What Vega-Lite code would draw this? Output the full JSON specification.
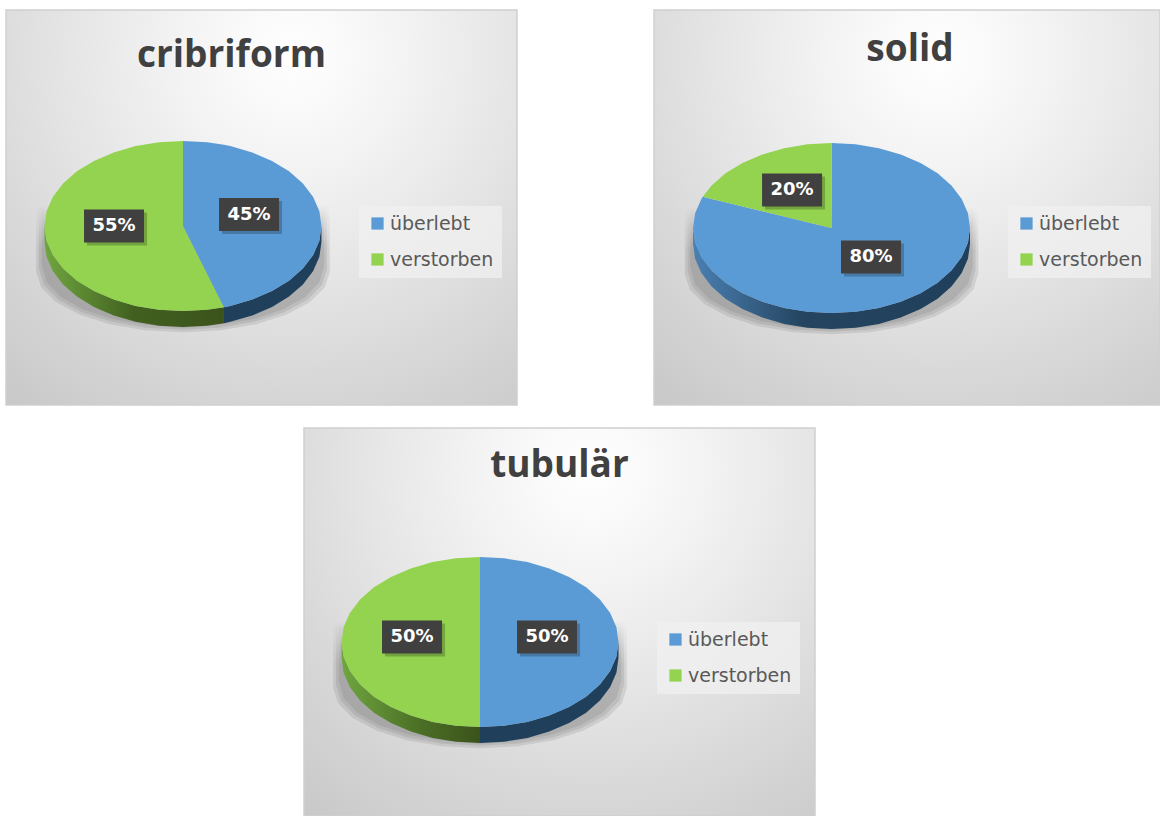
{
  "$schema": "https://vega.github.io/schema/vega-lite/v6.json",
  "padding": {"left": 5, "top": 9, "right": 0, "bottom": 0},
  "background": "white",
  "config": {
    "view": {
      "stroke": "#cfcfcf",
      "strokeWidth": 1.5,
      "fill": {
        "gradient": "radial", "x1": 0.56, "y1": 0.2, "x2": 0.56, "y2": 0.2, "r1": 0, "r2": 0.95,
        "stops": [
          {"offset": 0, "color": "#ffffff"},
          {"offset": 0.2, "color": "#f5f5f5"},
          {"offset": 0.45, "color": "#e6e6e6"},
          {"offset": 0.7, "color": "#d6d6d6"},
          {"offset": 1, "color": "#c4c4c4"}
        ]
      }
    },
    "title": {"font": "Open Sans", "fontWeight": "bold", "fontSize": 37, "color": "#404040", "baseline": "alphabetic", "offset": 0, "anchor": "middle", "frame": "group"},
    "legend": {
      "orient": "none", "title": null, "symbolType": "square", "symbolSize": 150, "symbolOpacity": 1, "symbolStrokeWidth": 0,
      "labelFont": "DejaVu Sans", "labelFontSize": 19, "labelColor": "#595959", "labelOffset": 3, "labelLimit": 200,
      "symbolOffset": 1, "rowPadding": 16, "padding": 8, "fillColor": "rgba(240,240,240,0.75)"
    }
  },
  "datasets": {
    "cribriform_slices": [
      {"slice": "verstorben", "x": -1, "y": 0, "y2": 0},
      {"slice": "verstorben", "x": -0.985, "y": 0.174, "y2": -0.174},
      {"slice": "verstorben", "x": -0.94, "y": 0.342, "y2": -0.342},
      {"slice": "verstorben", "x": -0.866, "y": 0.5, "y2": -0.5},
      {"slice": "verstorben", "x": -0.766, "y": 0.643, "y2": -0.643},
      {"slice": "verstorben", "x": -0.643, "y": 0.766, "y2": -0.766},
      {"slice": "verstorben", "x": -0.5, "y": 0.866, "y2": -0.866},
      {"slice": "verstorben", "x": -0.342, "y": 0.94, "y2": -0.94},
      {"slice": "verstorben", "x": -0.174, "y": 0.985, "y2": -0.985},
      {"slice": "verstorben", "x": 0, "y": 1, "y2": -1},
      {"slice": "verstorben", "x": 0, "y": 0, "y2": -1},
      {"slice": "verstorben", "x": 0.174, "y": -0.561, "y2": -0.985},
      {"slice": "verstorben", "x": 0.296, "y": -0.955, "y2": -0.955},
      {"slice": "überlebt", "x": 0, "y": 1, "y2": 0},
      {"slice": "überlebt", "x": 0.174, "y": 0.985, "y2": -0.561},
      {"slice": "überlebt", "x": 0.296, "y": 0.955, "y2": -0.955},
      {"slice": "überlebt", "x": 0.342, "y": 0.94, "y2": -0.94},
      {"slice": "überlebt", "x": 0.5, "y": 0.866, "y2": -0.866},
      {"slice": "überlebt", "x": 0.643, "y": 0.766, "y2": -0.766},
      {"slice": "überlebt", "x": 0.766, "y": 0.643, "y2": -0.643},
      {"slice": "überlebt", "x": 0.866, "y": 0.5, "y2": -0.5},
      {"slice": "überlebt", "x": 0.94, "y": 0.342, "y2": -0.342},
      {"slice": "überlebt", "x": 0.985, "y": 0.174, "y2": -0.174},
      {"slice": "überlebt", "x": 1, "y": 0, "y2": 0}
    ],
    "cribriform_rim": [
      {"slice": "verstorben", "x": -1, "y": 0, "y2": -0.188},
      {"slice": "verstorben", "x": -0.985, "y": -0.174, "y2": -0.362},
      {"slice": "verstorben", "x": -0.94, "y": -0.342, "y2": -0.53},
      {"slice": "verstorben", "x": -0.866, "y": -0.5, "y2": -0.688},
      {"slice": "verstorben", "x": -0.766, "y": -0.643, "y2": -0.831},
      {"slice": "verstorben", "x": -0.643, "y": -0.766, "y2": -0.954},
      {"slice": "verstorben", "x": -0.5, "y": -0.866, "y2": -1.054},
      {"slice": "verstorben", "x": -0.342, "y": -0.94, "y2": -1.128},
      {"slice": "verstorben", "x": -0.174, "y": -0.985, "y2": -1.173},
      {"slice": "verstorben", "x": 0, "y": -1, "y2": -1.188},
      {"slice": "verstorben", "x": 0.174, "y": -0.985, "y2": -1.173},
      {"slice": "verstorben", "x": 0.296, "y": -0.955, "y2": -1.143},
      {"slice": "überlebt", "x": 0.296, "y": -0.955, "y2": -1.143},
      {"slice": "überlebt", "x": 0.342, "y": -0.94, "y2": -1.128},
      {"slice": "überlebt", "x": 0.5, "y": -0.866, "y2": -1.054},
      {"slice": "überlebt", "x": 0.643, "y": -0.766, "y2": -0.954},
      {"slice": "überlebt", "x": 0.766, "y": -0.643, "y2": -0.831},
      {"slice": "überlebt", "x": 0.866, "y": -0.5, "y2": -0.688},
      {"slice": "überlebt", "x": 0.94, "y": -0.342, "y2": -0.53},
      {"slice": "überlebt", "x": 0.985, "y": -0.174, "y2": -0.362},
      {"slice": "überlebt", "x": 1, "y": 0, "y2": -0.188}
    ],
    "cribriform_labels": [
      {"slice": "überlebt", "value": 0.45, "x": 0.477, "y": 0.135},
      {"slice": "verstorben", "value": 0.55, "x": -0.498, "y": 0}
    ],
    "solid_slices": [
      {"slice": "überlebt", "x": -1, "y": 0, "y2": 0},
      {"slice": "überlebt", "x": -0.985, "y": 0.174, "y2": -0.174},
      {"slice": "überlebt", "x": -0.94, "y": 0.342, "y2": -0.342},
      {"slice": "überlebt", "x": -0.93, "y": 0.367, "y2": -0.367},
      {"slice": "überlebt", "x": -0.866, "y": 0.342, "y2": -0.5},
      {"slice": "überlebt", "x": -0.766, "y": 0.303, "y2": -0.643},
      {"slice": "überlebt", "x": -0.643, "y": 0.254, "y2": -0.766},
      {"slice": "überlebt", "x": -0.5, "y": 0.1975, "y2": -0.866},
      {"slice": "überlebt", "x": -0.342, "y": 0.135, "y2": -0.94},
      {"slice": "überlebt", "x": -0.174, "y": 0.0687, "y2": -0.985},
      {"slice": "überlebt", "x": 0, "y": 0, "y2": -1},
      {"slice": "überlebt", "x": 0, "y": 1, "y2": -1},
      {"slice": "überlebt", "x": 0.174, "y": 0.985, "y2": -0.985},
      {"slice": "überlebt", "x": 0.342, "y": 0.94, "y2": -0.94},
      {"slice": "überlebt", "x": 0.5, "y": 0.866, "y2": -0.866},
      {"slice": "überlebt", "x": 0.643, "y": 0.766, "y2": -0.766},
      {"slice": "überlebt", "x": 0.766, "y": 0.643, "y2": -0.643},
      {"slice": "überlebt", "x": 0.866, "y": 0.5, "y2": -0.5},
      {"slice": "überlebt", "x": 0.94, "y": 0.342, "y2": -0.342},
      {"slice": "überlebt", "x": 0.985, "y": 0.174, "y2": -0.174},
      {"slice": "überlebt", "x": 1, "y": 0, "y2": 0},
      {"slice": "verstorben", "x": -0.93, "y": 0.367, "y2": 0.367},
      {"slice": "verstorben", "x": -0.866, "y": 0.5, "y2": 0.342},
      {"slice": "verstorben", "x": -0.766, "y": 0.643, "y2": 0.303},
      {"slice": "verstorben", "x": -0.643, "y": 0.766, "y2": 0.254},
      {"slice": "verstorben", "x": -0.5, "y": 0.866, "y2": 0.1975},
      {"slice": "verstorben", "x": -0.342, "y": 0.94, "y2": 0.135},
      {"slice": "verstorben", "x": -0.174, "y": 0.985, "y2": 0.0687},
      {"slice": "verstorben", "x": 0, "y": 1, "y2": 0}
    ],
    "solid_rim": [
      {"slice": "überlebt", "x": -1, "y": 0, "y2": -0.188},
      {"slice": "überlebt", "x": -0.985, "y": -0.174, "y2": -0.362},
      {"slice": "überlebt", "x": -0.94, "y": -0.342, "y2": -0.53},
      {"slice": "überlebt", "x": -0.866, "y": -0.5, "y2": -0.688},
      {"slice": "überlebt", "x": -0.766, "y": -0.643, "y2": -0.831},
      {"slice": "überlebt", "x": -0.643, "y": -0.766, "y2": -0.954},
      {"slice": "überlebt", "x": -0.5, "y": -0.866, "y2": -1.054},
      {"slice": "überlebt", "x": -0.342, "y": -0.94, "y2": -1.128},
      {"slice": "überlebt", "x": -0.174, "y": -0.985, "y2": -1.173},
      {"slice": "überlebt", "x": 0, "y": -1, "y2": -1.188},
      {"slice": "überlebt", "x": 0.174, "y": -0.985, "y2": -1.173},
      {"slice": "überlebt", "x": 0.342, "y": -0.94, "y2": -1.128},
      {"slice": "überlebt", "x": 0.5, "y": -0.866, "y2": -1.054},
      {"slice": "überlebt", "x": 0.643, "y": -0.766, "y2": -0.954},
      {"slice": "überlebt", "x": 0.766, "y": -0.643, "y2": -0.831},
      {"slice": "überlebt", "x": 0.866, "y": -0.5, "y2": -0.688},
      {"slice": "überlebt", "x": 0.94, "y": -0.342, "y2": -0.53},
      {"slice": "überlebt", "x": 0.985, "y": -0.174, "y2": -0.362},
      {"slice": "überlebt", "x": 1, "y": 0, "y2": -0.188}
    ],
    "solid_labels": [
      {"slice": "überlebt", "value": 0.8, "x": 0.285, "y": -0.341},
      {"slice": "verstorben", "value": 0.2, "x": -0.285, "y": 0.447}
    ],
    "tubular_slices": [
      {"slice": "verstorben", "x": -1, "y": 0, "y2": 0},
      {"slice": "verstorben", "x": -0.985, "y": 0.174, "y2": -0.174},
      {"slice": "verstorben", "x": -0.94, "y": 0.342, "y2": -0.342},
      {"slice": "verstorben", "x": -0.866, "y": 0.5, "y2": -0.5},
      {"slice": "verstorben", "x": -0.766, "y": 0.643, "y2": -0.643},
      {"slice": "verstorben", "x": -0.643, "y": 0.766, "y2": -0.766},
      {"slice": "verstorben", "x": -0.5, "y": 0.866, "y2": -0.866},
      {"slice": "verstorben", "x": -0.342, "y": 0.94, "y2": -0.94},
      {"slice": "verstorben", "x": -0.174, "y": 0.985, "y2": -0.985},
      {"slice": "verstorben", "x": 0, "y": 1, "y2": -1},
      {"slice": "überlebt", "x": 0, "y": 1, "y2": -1},
      {"slice": "überlebt", "x": 0.174, "y": 0.985, "y2": -0.985},
      {"slice": "überlebt", "x": 0.342, "y": 0.94, "y2": -0.94},
      {"slice": "überlebt", "x": 0.5, "y": 0.866, "y2": -0.866},
      {"slice": "überlebt", "x": 0.643, "y": 0.766, "y2": -0.766},
      {"slice": "überlebt", "x": 0.766, "y": 0.643, "y2": -0.643},
      {"slice": "überlebt", "x": 0.866, "y": 0.5, "y2": -0.5},
      {"slice": "überlebt", "x": 0.94, "y": 0.342, "y2": -0.342},
      {"slice": "überlebt", "x": 0.985, "y": 0.174, "y2": -0.174},
      {"slice": "überlebt", "x": 1, "y": 0, "y2": 0}
    ],
    "tubular_rim": [
      {"slice": "verstorben", "x": -1, "y": 0, "y2": -0.188},
      {"slice": "verstorben", "x": -0.985, "y": -0.174, "y2": -0.362},
      {"slice": "verstorben", "x": -0.94, "y": -0.342, "y2": -0.53},
      {"slice": "verstorben", "x": -0.866, "y": -0.5, "y2": -0.688},
      {"slice": "verstorben", "x": -0.766, "y": -0.643, "y2": -0.831},
      {"slice": "verstorben", "x": -0.643, "y": -0.766, "y2": -0.954},
      {"slice": "verstorben", "x": -0.5, "y": -0.866, "y2": -1.054},
      {"slice": "verstorben", "x": -0.342, "y": -0.94, "y2": -1.128},
      {"slice": "verstorben", "x": -0.174, "y": -0.985, "y2": -1.173},
      {"slice": "verstorben", "x": 0, "y": -1, "y2": -1.188},
      {"slice": "überlebt", "x": 0, "y": -1, "y2": -1.188},
      {"slice": "überlebt", "x": 0.174, "y": -0.985, "y2": -1.173},
      {"slice": "überlebt", "x": 0.342, "y": -0.94, "y2": -1.128},
      {"slice": "überlebt", "x": 0.5, "y": -0.866, "y2": -1.054},
      {"slice": "überlebt", "x": 0.643, "y": -0.766, "y2": -0.954},
      {"slice": "überlebt", "x": 0.766, "y": -0.643, "y2": -0.831},
      {"slice": "überlebt", "x": 0.866, "y": -0.5, "y2": -0.688},
      {"slice": "überlebt", "x": 0.94, "y": -0.342, "y2": -0.53},
      {"slice": "überlebt", "x": 0.985, "y": -0.174, "y2": -0.362},
      {"slice": "überlebt", "x": 1, "y": 0, "y2": -0.188}
    ],
    "tubular_labels": [
      {"slice": "überlebt", "value": 0.5, "x": 0.484, "y": 0.059},
      {"slice": "verstorben", "value": 0.5, "x": -0.491, "y": 0.059}
    ],
    "ground_shadow": [
      {"ring": "a", "x": -1.06, "y": 0.25, "y2": -0.54},
      {"ring": "a", "x": -1.024, "y": 0.25, "y2": -0.724},
      {"ring": "a", "x": -0.918, "y": 0.25, "y2": -0.895},
      {"ring": "a", "x": -0.749, "y": 0.25, "y2": -1.042},
      {"ring": "a", "x": -0.53, "y": 0.25, "y2": -1.155},
      {"ring": "a", "x": -0.275, "y": 0.25, "y2": -1.226},
      {"ring": "a", "x": 0, "y": 0.25, "y2": -1.25},
      {"ring": "a", "x": 0.275, "y": 0.25, "y2": -1.226},
      {"ring": "a", "x": 0.53, "y": 0.25, "y2": -1.155},
      {"ring": "a", "x": 0.749, "y": 0.25, "y2": -1.042},
      {"ring": "a", "x": 0.918, "y": 0.25, "y2": -0.895},
      {"ring": "a", "x": 1.024, "y": 0.25, "y2": -0.724},
      {"ring": "a", "x": 1.06, "y": 0.25, "y2": -0.54},
      {"ring": "b", "x": -1.04, "y": 0.25, "y2": -0.5},
      {"ring": "b", "x": -1.005, "y": 0.25, "y2": -0.69},
      {"ring": "b", "x": -0.901, "y": 0.25, "y2": -0.865},
      {"ring": "b", "x": -0.735, "y": 0.25, "y2": -1.012},
      {"ring": "b", "x": -0.52, "y": 0.25, "y2": -1.125},
      {"ring": "b", "x": -0.269, "y": 0.25, "y2": -1.196},
      {"ring": "b", "x": 0, "y": 0.25, "y2": -1.22},
      {"ring": "b", "x": 0.269, "y": 0.25, "y2": -1.196},
      {"ring": "b", "x": 0.52, "y": 0.25, "y2": -1.125},
      {"ring": "b", "x": 0.735, "y": 0.25, "y2": -1.012},
      {"ring": "b", "x": 0.901, "y": 0.25, "y2": -0.865},
      {"ring": "b", "x": 1.005, "y": 0.25, "y2": -0.69},
      {"ring": "b", "x": 1.04, "y": 0.25, "y2": -0.5},
      {"ring": "c", "x": -1.02, "y": 0.25, "y2": -0.46},
      {"ring": "c", "x": -0.985, "y": 0.25, "y2": -0.66},
      {"ring": "c", "x": -0.883, "y": 0.25, "y2": -0.835},
      {"ring": "c", "x": -0.721, "y": 0.25, "y2": -0.982},
      {"ring": "c", "x": -0.51, "y": 0.25, "y2": -1.095},
      {"ring": "c", "x": -0.264, "y": 0.25, "y2": -1.166},
      {"ring": "c", "x": 0, "y": 0.25, "y2": -1.2},
      {"ring": "c", "x": 0.264, "y": 0.25, "y2": -1.166},
      {"ring": "c", "x": 0.51, "y": 0.25, "y2": -1.095},
      {"ring": "c", "x": 0.721, "y": 0.25, "y2": -0.982},
      {"ring": "c", "x": 0.883, "y": 0.25, "y2": -0.835},
      {"ring": "c", "x": 0.985, "y": 0.25, "y2": -0.66},
      {"ring": "c", "x": 1.02, "y": 0.25, "y2": -0.46}
    ]
  },
  "vconcat": [
    {
      "hconcat": [
        {
          "title": {"text": "cribriform", "dx": -30, "dy": 69},
          "width": 511,
          "height": 395,
          "encoding": {
            "x": {"field": "x", "type": "quantitative", "axis": null, "scale": {"domain": [-1.278, 2.412], "nice": false, "zero": false}},
            "y": {"field": "y", "type": "quantitative", "axis": null, "scale": {"domain": [-2.106, 2.541], "nice": false, "zero": false}}
          },
          "layer": [
            {
              "data": {"name": "ground_shadow"},
              "mark": {"type": "area", "fill": {"gradient": "linear", "x1": 0, "y1": 0, "x2": 0, "y2": 1, "stops": [{"offset": 0, "color": "rgba(90,90,90,0)"}, {"offset": 0.35, "color": "rgba(90,90,90,0.15)"}, {"offset": 1, "color": "rgba(90,90,90,0.15)"}]}},
              "encoding": {"y2": {"field": "y2"}, "detail": {"field": "ring"}}
            },
            {
              "data": {"name": "cribriform_rim"},
              "transform": [{"filter": "datum.slice === 'verstorben'"}],
              "mark": {"type": "area", "fill": {"gradient": "linear", "x1": 0, "y1": 0, "x2": 1, "y2": 0, "stops": [{"offset": 0, "color": "#6fa53f"}, {"offset": 0.5, "color": "#41601f"}, {"offset": 1, "color": "#3b531b"}]}},
              "encoding": {"y2": {"field": "y2"}}
            },
            {
              "data": {"name": "cribriform_rim"},
              "transform": [{"filter": "datum.slice === 'überlebt'"}],
              "mark": {"type": "area", "fill": "#203f5b"},
              "encoding": {"y2": {"field": "y2"}}
            },
            {
              "data": {"name": "cribriform_slices"},
              "mark": {"type": "area"},
              "encoding": {
                "y2": {"field": "y2"},
                "color": {"field": "slice", "type": "nominal", "scale": {"domain": ["überlebt", "verstorben"], "range": ["#5b9bd5", "#94d350"]}, "legend": {"legendX": 353, "legendY": 196}}
              }
            },
            {
              "data": {"name": "cribriform_labels"},
              "mark": {"type": "rect", "width": 60, "height": 33, "fill": "#000000", "opacity": 0.22, "xOffset": 3, "yOffset": 3}
            },
            {
              "data": {"name": "cribriform_labels"},
              "mark": {"type": "rect", "width": 60, "height": 33, "fill": "#404040"}
            },
            {
              "data": {"name": "cribriform_labels"},
              "mark": {"type": "text", "font": "DejaVu Sans", "fontWeight": "bold", "fontSize": 18, "color": "white", "baseline": "middle"},
              "encoding": {"text": {"field": "value", "type": "quantitative", "format": ".0%"}}
            }
          ]
        },
        {
          "title": {"text": "solid", "dx": 3, "dy": 63},
          "width": 506,
          "height": 395,
          "encoding": {
            "x": {"field": "x", "type": "quantitative", "axis": null, "scale": {"domain": [-1.282, 2.372], "nice": false, "zero": false}},
            "y": {"field": "y", "type": "quantitative", "axis": null, "scale": {"domain": [-2.082, 2.565], "nice": false, "zero": false}}
          },
          "layer": [
            {
              "data": {"name": "ground_shadow"},
              "mark": {"type": "area", "fill": {"gradient": "linear", "x1": 0, "y1": 0, "x2": 0, "y2": 1, "stops": [{"offset": 0, "color": "rgba(90,90,90,0)"}, {"offset": 0.35, "color": "rgba(90,90,90,0.15)"}, {"offset": 1, "color": "rgba(90,90,90,0.15)"}]}},
              "encoding": {"y2": {"field": "y2"}, "detail": {"field": "ring"}}
            },
            {
              "data": {"name": "solid_rim"},
              "mark": {"type": "area", "fill": {"gradient": "linear", "x1": 0, "y1": 0, "x2": 1, "y2": 0, "stops": [{"offset": 0, "color": "#4a80b2"}, {"offset": 0.4, "color": "#24445f"}, {"offset": 1, "color": "#203f5b"}]}},
              "encoding": {"y2": {"field": "y2"}}
            },
            {
              "data": {"name": "solid_slices"},
              "mark": {"type": "area"},
              "encoding": {
                "y2": {"field": "y2"},
                "color": {"field": "slice", "type": "nominal", "scale": {"domain": ["überlebt", "verstorben"], "range": ["#5b9bd5", "#94d350"]}, "legend": {"legendX": 354, "legendY": 196}}
              }
            },
            {
              "data": {"name": "solid_labels"},
              "mark": {"type": "rect", "width": 60, "height": 33, "fill": "#000000", "opacity": 0.22, "xOffset": 3, "yOffset": 3}
            },
            {
              "data": {"name": "solid_labels"},
              "mark": {"type": "rect", "width": 60, "height": 33, "fill": "#404040"}
            },
            {
              "data": {"name": "solid_labels"},
              "mark": {"type": "text", "font": "DejaVu Sans", "fontWeight": "bold", "fontSize": 18, "color": "white", "baseline": "middle"},
              "encoding": {"text": {"field": "value", "type": "quantitative", "format": ".0%"}}
            }
          ]
        }
      ],
      "spacing": 137,
      "bounds": "flush",
      "resolve": {"scale": {"color": "independent"}, "legend": {"color": "independent"}}
    },
    {
      "hconcat": [
        {
          "width": 298,
          "height": 1,
          "view": {"fill": null, "stroke": null},
          "data": {"values": []},
          "mark": {"type": "point"},
          "encoding": {}
        },
        {
          "title": {"text": "tubulär", "dx": 0, "dy": 61},
          "width": 511,
          "height": 388,
          "encoding": {
            "x": {"field": "x", "type": "quantitative", "axis": null, "scale": {"domain": [-1.271, 2.419], "nice": false, "zero": false}},
            "y": {"field": "y", "type": "quantitative", "axis": null, "scale": {"domain": [-2.047, 2.518], "nice": false, "zero": false}}
          },
          "layer": [
            {
              "data": {"name": "ground_shadow"},
              "mark": {"type": "area", "fill": {"gradient": "linear", "x1": 0, "y1": 0, "x2": 0, "y2": 1, "stops": [{"offset": 0, "color": "rgba(90,90,90,0)"}, {"offset": 0.35, "color": "rgba(90,90,90,0.15)"}, {"offset": 1, "color": "rgba(90,90,90,0.15)"}]}},
              "encoding": {"y2": {"field": "y2"}, "detail": {"field": "ring"}}
            },
            {
              "data": {"name": "tubular_rim"},
              "transform": [{"filter": "datum.slice === 'verstorben'"}],
              "mark": {"type": "area", "fill": {"gradient": "linear", "x1": 0, "y1": 0, "x2": 1, "y2": 0, "stops": [{"offset": 0, "color": "#6fa53f"}, {"offset": 0.55, "color": "#4c7026"}, {"offset": 1, "color": "#3b531b"}]}},
              "encoding": {"y2": {"field": "y2"}}
            },
            {
              "data": {"name": "tubular_rim"},
              "transform": [{"filter": "datum.slice === 'überlebt'"}],
              "mark": {"type": "area", "fill": "#203f5b"},
              "encoding": {"y2": {"field": "y2"}}
            },
            {
              "data": {"name": "tubular_slices"},
              "mark": {"type": "area"},
              "encoding": {
                "y2": {"field": "y2"},
                "color": {"field": "slice", "type": "nominal", "scale": {"domain": ["überlebt", "verstorben"], "range": ["#5b9bd5", "#94d350"]}, "legend": {"legendX": 353, "legendY": 194}}
              }
            },
            {
              "data": {"name": "tubular_labels"},
              "mark": {"type": "rect", "width": 60, "height": 33, "fill": "#000000", "opacity": 0.22, "xOffset": 3, "yOffset": 3}
            },
            {
              "data": {"name": "tubular_labels"},
              "mark": {"type": "rect", "width": 60, "height": 33, "fill": "#404040"}
            },
            {
              "data": {"name": "tubular_labels"},
              "mark": {"type": "text", "font": "DejaVu Sans", "fontWeight": "bold", "fontSize": 18, "color": "white", "baseline": "middle"},
              "encoding": {"text": {"field": "value", "type": "quantitative", "format": ".0%"}}
            }
          ]
        }
      ],
      "spacing": 0,
      "bounds": "flush",
      "resolve": {"scale": {"color": "independent"}, "legend": {"color": "independent"}}
    }
  ],
  "spacing": 21,
  "resolve": {"scale": {"color": "independent"}, "legend": {"color": "independent"}}
}
